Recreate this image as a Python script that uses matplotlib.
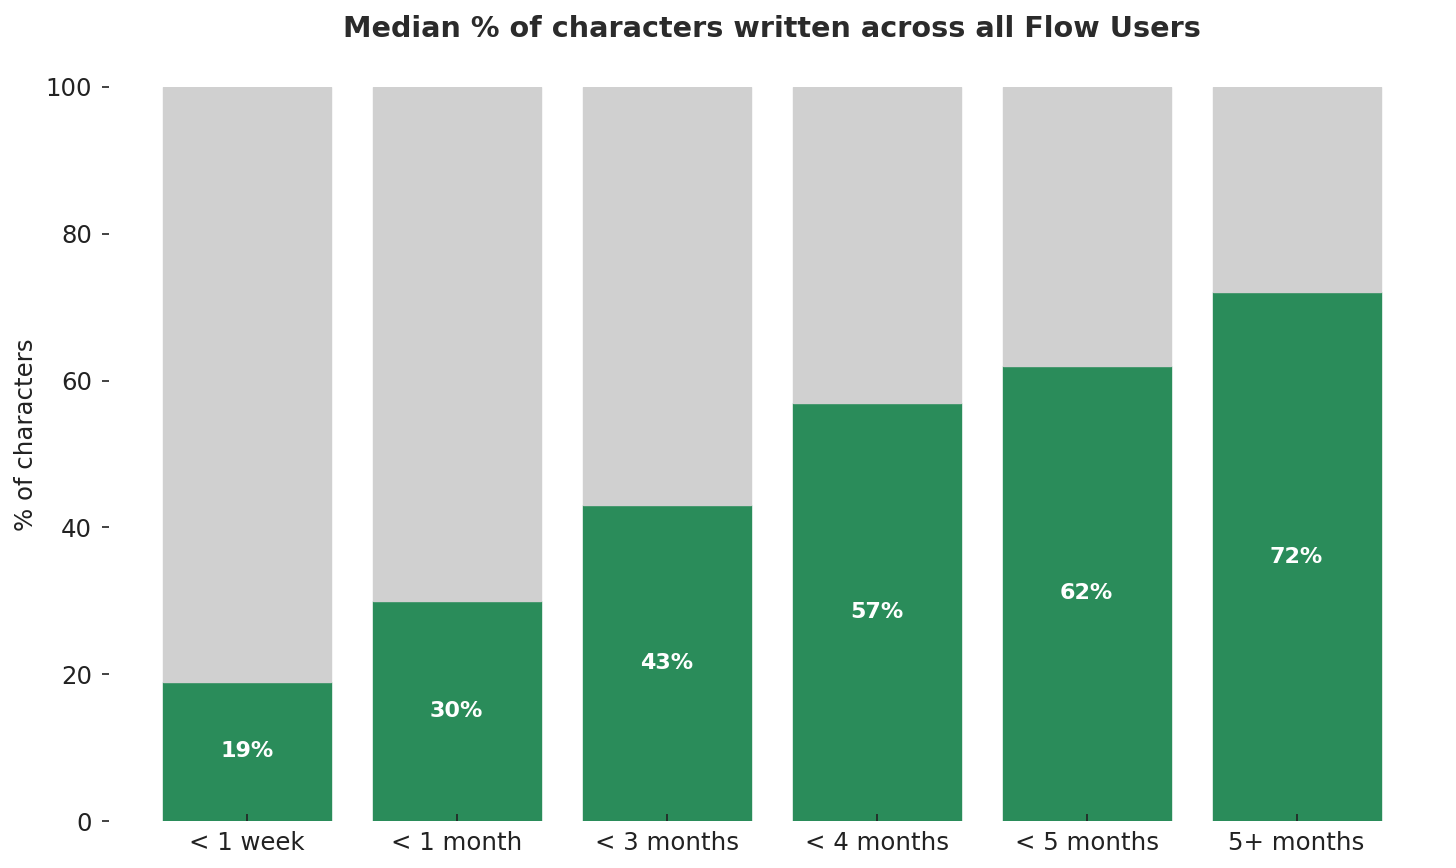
import numpy as np
import matplotlib
matplotlib.use('Agg')
import matplotlib.pyplot as plt

categories = ['< 1 week', '< 1 month', '< 3 months', '< 4 months', '< 5 months', '5+ months']
written = [19, 30, 43, 57, 62, 72]
total = 100

green = '#2a8c5a'
gray = '#d0d0d0'

fig = plt.figure(figsize=(7.28, 4.34), dpi=200)
ax = fig.add_axes([0.070, 0.054, 0.920, 0.846])

x = np.arange(len(categories))
rest = [total - w for w in written]
ax.bar(x, written, width=0.8, color=green, edgecolor=green, linewidth=0.5)
ax.bar(x, rest, width=0.8, bottom=written, color=gray, edgecolor=gray, linewidth=0.5)

for xi, w in zip(x, written):
    ax.text(xi, w / 2, '{}%'.format(w), ha='center', va='center',
            color='white', fontsize=8, fontweight='bold')

ax.set_ylim(0, 100)
ax.set_yticks([0, 20, 40, 60, 80, 100])
ax.set_xticks(x)
ax.set_xticklabels(categories)
ax.tick_params(axis='both', direction='in', length=2.5, width=0.6,
               labelsize=8.8, colors='#222222', pad=3.5)
for s in ax.spines.values():
    s.set_visible(False)

ax.set_ylabel('% of characters', fontsize=8.8, color='#222222')
ax.yaxis.set_label_coords(-0.048, 0.526)
ax.set_title('Median % of characters written across all Flow Users',
             fontsize=10.3, fontweight='bold', color='#2b2b2b', pad=18)

fig.savefig('out.png', dpi=200)
